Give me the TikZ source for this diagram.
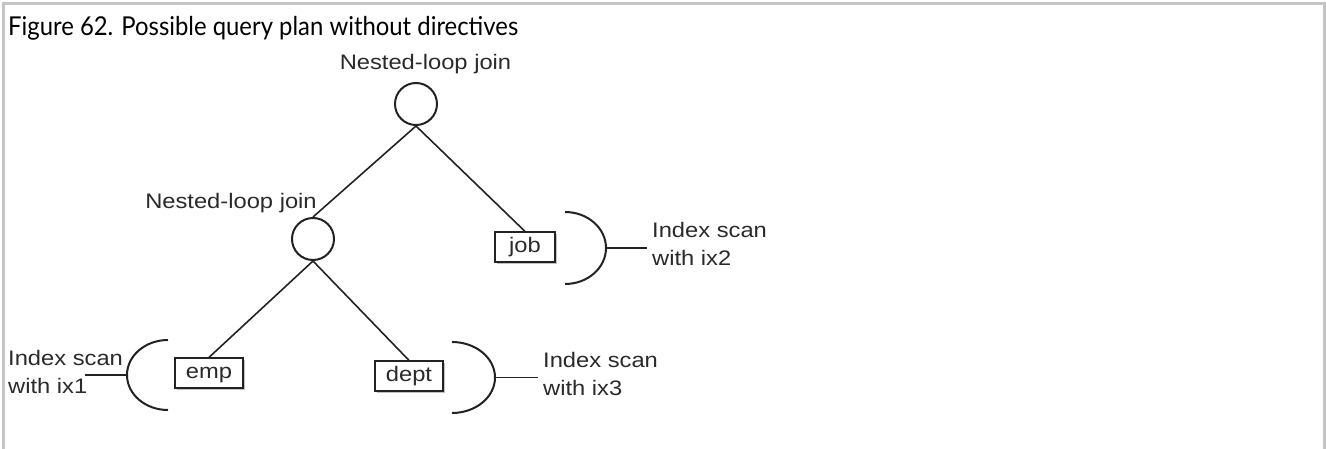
\documentclass[tikz,border=0pt]{standalone}
\usepackage{fontspec}
\setmainfont{Liberation Sans}
\newfontfamily\titlefont{Lato}
\usetikzlibrary{shadows}
\definecolor{frame}{HTML}{C4C4C4}
\definecolor{ink}{HTML}{222222}
\definecolor{txt}{HTML}{2A2A2A}
\newcommand{\sx}[1]{\scalebox{1.13}[1]{#1}}
\tikzset{
  lbl/.style={font=\fontsize{21}{28}\selectfont, text=txt, inner sep=0pt},
  scanlbl/.style={lbl, align=left, inner xsep=5pt, inner ysep=0pt, anchor=north west},
  joinnode/.style={circle, draw=ink, line width=2pt, minimum size=42pt, inner sep=0pt},
  tablebox/.style={draw=ink, line width=1.2pt, fill=white, inner sep=0pt,
    minimum height=30pt, text height=15pt, text depth=4pt,
    font=\fontsize{21}{28}\selectfont, text=txt,
    drop shadow={shadow xshift=2pt, shadow yshift=-2pt, fill=gray!70, opacity=.7}},
  conn/.style={draw=ink, line width=1.6pt},
  brace/.style={draw=ink, line width=2pt},
}
\begin{document}
\begin{tikzpicture}[x=1pt,y=-1pt]
\useasboundingbox (0,0) rectangle (1326,449);
% frame
\draw[frame, line width=3pt] (3.5,449) -- (3.5,3.5) -- (1324.5,3.5) -- (1324.5,449);
% title
\node[anchor=base west, inner sep=0pt, text=black] (title) at (8,36)
  {\resizebox{510pt}{\height}{\titlefont\fontsize{26}{30}\selectfont Figure 62. Possible query plan without directives}};
% join nodes
\node[joinnode] (j1) at (416,104) {};
\node[joinnode] (j2) at (313,239) {};
\node[lbl, anchor=base] (l1) at (425.5,70) {\sx{Nested-loop join}};
\node[lbl, anchor=base] (l2) at (231,209) {\sx{Nested-loop join}};
% tables
\node[tablebox, minimum width=68pt] (emp) at (209,373) {\sx{emp}};
\node[tablebox, minimum width=68pt] (dept) at (409,376) {\sx{dept}};
\node[tablebox, minimum width=60pt] (job) at (525,247) {\sx{job}};
% tree edges
\draw[conn] (j1.south) -- (j2.north);
\draw[conn] (j1.south) -- (job.north);
\draw[conn] (j2.south) -- (emp.north);
\draw[conn] (j2.south) -- (dept.north);
% brackets
\coordinate (b2top) at (565,212);
\coordinate (b2) at (606,248);
\coordinate (b3top) at (452,342);
\coordinate (b3) at (495,377.5);
\coordinate (b1top) at (168,340);
\coordinate (b1) at (127,375);
\coordinate (s1) at (85,375);
\draw[brace] (b2top) arc[start angle=90, end angle=-90, x radius=41pt, y radius=36pt];
\draw[brace] (b3top) arc[start angle=90, end angle=-90, x radius=43pt, y radius=35.5pt];
\draw[brace] (b1top) arc[start angle=90, end angle=270, x radius=41pt, y radius=35pt];
% scan labels
\node[scanlbl] (s2) at (647,222) {\sx{Index scan}\\\sx{with ix2}};
\node[scanlbl] (s3) at (538,352) {\sx{Index scan}\\\sx{with ix3}};
\node[scanlbl] (s1l) at (3,350) {\sx{Index scan}\\\sx{with ix1}};
\draw[conn] (b2) -- (s2.west |- b2);
\draw[conn] (b3) -- (s3.west |- b3);
\draw[conn] (b1) -- (s1);
\end{tikzpicture}
\end{document}
